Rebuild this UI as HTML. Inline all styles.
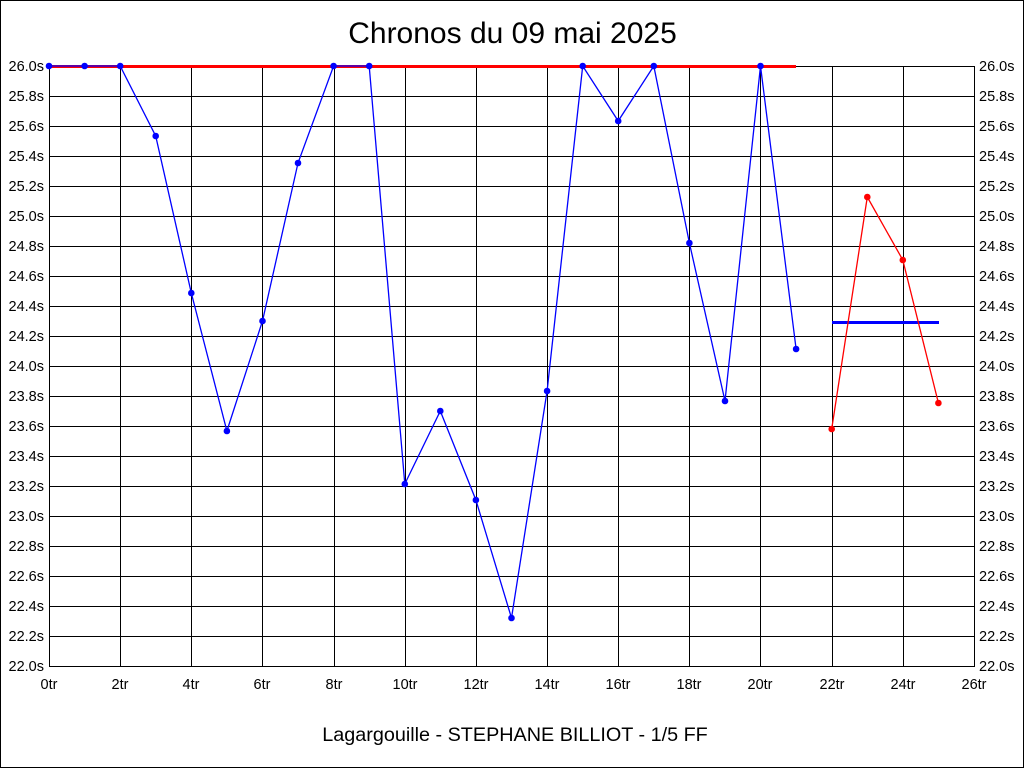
<!DOCTYPE html>
<html>
<head>
<meta charset="utf-8">
<style>
html,body{margin:0;padding:0;background:#fff;}
svg{display:block;}
text{font-family:"Liberation Sans",Arial,sans-serif;fill:#000;}
</style>
</head>
<body>
<svg width="1024" height="768" viewBox="0 0 1024 768" xmlns="http://www.w3.org/2000/svg">
<rect x="0" y="0" width="1024" height="768" fill="#fff"/>
<rect x="0.5" y="0.5" width="1023" height="767" fill="none" stroke="#000" stroke-width="1"/>

<text x="512.5" y="43" font-size="30" text-anchor="middle">Chronos du 09 mai 2025</text>

<g stroke="#000" stroke-width="1" shape-rendering="crispEdges">
<line x1="49" y1="66.5" x2="975" y2="66.5"/>
<line x1="49" y1="96.5" x2="975" y2="96.5"/>
<line x1="49" y1="126.5" x2="975" y2="126.5"/>
<line x1="49" y1="156.5" x2="975" y2="156.5"/>
<line x1="49" y1="186.5" x2="975" y2="186.5"/>
<line x1="49" y1="216.5" x2="975" y2="216.5"/>
<line x1="49" y1="246.5" x2="975" y2="246.5"/>
<line x1="49" y1="276.5" x2="975" y2="276.5"/>
<line x1="49" y1="306.5" x2="975" y2="306.5"/>
<line x1="49" y1="336.5" x2="975" y2="336.5"/>
<line x1="49" y1="366.5" x2="975" y2="366.5"/>
<line x1="49" y1="396.5" x2="975" y2="396.5"/>
<line x1="49" y1="426.5" x2="975" y2="426.5"/>
<line x1="49" y1="456.5" x2="975" y2="456.5"/>
<line x1="49" y1="486.5" x2="975" y2="486.5"/>
<line x1="49" y1="516.5" x2="975" y2="516.5"/>
<line x1="49" y1="546.5" x2="975" y2="546.5"/>
<line x1="49" y1="576.5" x2="975" y2="576.5"/>
<line x1="49" y1="606.5" x2="975" y2="606.5"/>
<line x1="49" y1="636.5" x2="975" y2="636.5"/>
<line x1="49" y1="666.5" x2="975" y2="666.5"/>

<line x1="49.5" y1="66" x2="49.5" y2="667"/>
<line x1="120.5" y1="66" x2="120.5" y2="667"/>
<line x1="191.5" y1="66" x2="191.5" y2="667"/>
<line x1="262.5" y1="66" x2="262.5" y2="667"/>
<line x1="334.5" y1="66" x2="334.5" y2="667"/>
<line x1="405.5" y1="66" x2="405.5" y2="667"/>
<line x1="476.5" y1="66" x2="476.5" y2="667"/>
<line x1="547.5" y1="66" x2="547.5" y2="667"/>
<line x1="618.5" y1="66" x2="618.5" y2="667"/>
<line x1="689.5" y1="66" x2="689.5" y2="667"/>
<line x1="760.5" y1="66" x2="760.5" y2="667"/>
<line x1="832.5" y1="66" x2="832.5" y2="667"/>
<line x1="903.5" y1="66" x2="903.5" y2="667"/>
<line x1="974.5" y1="66" x2="974.5" y2="667"/>
</g>

<g font-size="14.5" text-anchor="end">
<text x="44" y="71">26.0s</text>
<text x="44" y="101">25.8s</text>
<text x="44" y="131">25.6s</text>
<text x="44" y="161">25.4s</text>
<text x="44" y="191">25.2s</text>
<text x="44" y="221">25.0s</text>
<text x="44" y="251">24.8s</text>
<text x="44" y="281">24.6s</text>
<text x="44" y="311">24.4s</text>
<text x="44" y="341">24.2s</text>
<text x="44" y="371">24.0s</text>
<text x="44" y="401">23.8s</text>
<text x="44" y="431">23.6s</text>
<text x="44" y="461">23.4s</text>
<text x="44" y="491">23.2s</text>
<text x="44" y="521">23.0s</text>
<text x="44" y="551">22.8s</text>
<text x="44" y="581">22.6s</text>
<text x="44" y="611">22.4s</text>
<text x="44" y="641">22.2s</text>
<text x="44" y="671">22.0s</text>
</g>
<g font-size="14.5" text-anchor="start">
<text x="979" y="71">26.0s</text>
<text x="979" y="101">25.8s</text>
<text x="979" y="131">25.6s</text>
<text x="979" y="161">25.4s</text>
<text x="979" y="191">25.2s</text>
<text x="979" y="221">25.0s</text>
<text x="979" y="251">24.8s</text>
<text x="979" y="281">24.6s</text>
<text x="979" y="311">24.4s</text>
<text x="979" y="341">24.2s</text>
<text x="979" y="371">24.0s</text>
<text x="979" y="401">23.8s</text>
<text x="979" y="431">23.6s</text>
<text x="979" y="461">23.4s</text>
<text x="979" y="491">23.2s</text>
<text x="979" y="521">23.0s</text>
<text x="979" y="551">22.8s</text>
<text x="979" y="581">22.6s</text>
<text x="979" y="611">22.4s</text>
<text x="979" y="641">22.2s</text>
<text x="979" y="671">22.0s</text>
</g>
<g font-size="14.5" text-anchor="middle">
<text x="49" y="689">0tr</text>
<text x="120" y="689">2tr</text>
<text x="191" y="689">4tr</text>
<text x="262" y="689">6tr</text>
<text x="334" y="689">8tr</text>
<text x="405" y="689">10tr</text>
<text x="476" y="689">12tr</text>
<text x="547" y="689">14tr</text>
<text x="618" y="689">16tr</text>
<text x="689" y="689">18tr</text>
<text x="760" y="689">20tr</text>
<text x="832" y="689">22tr</text>
<text x="903" y="689">24tr</text>
<text x="974" y="689">26tr</text>
</g>

<!-- red reference line -->
<line x1="49" y1="66.5" x2="796" y2="66.5" stroke="#ff0000" stroke-width="3"/>
<!-- blue average line -->
<line x1="832" y1="322.5" x2="939" y2="322.5" stroke="#0000ff" stroke-width="3"/>

<!-- blue series -->
<polyline fill="none" stroke="#0000ff" stroke-width="1.3" points="49,66 84.6,66 120.2,66 155.7,136 191.3,293 226.9,431 262.5,321 298,163 333.6,66 369.2,66 404.8,484 440.3,411 475.9,500 511.5,618 547.1,391 582.7,66 618.2,121 653.8,66 689.4,243 725,401 760.5,66 796.1,349"/>
<g fill="#0000ff">
<circle cx="49" cy="66" r="3.3"/>
<circle cx="84.6" cy="66" r="3.3"/>
<circle cx="120.2" cy="66" r="3.3"/>
<circle cx="155.7" cy="136" r="3.3"/>
<circle cx="191.3" cy="293" r="3.3"/>
<circle cx="226.9" cy="431" r="3.3"/>
<circle cx="262.5" cy="321" r="3.3"/>
<circle cx="298" cy="163" r="3.3"/>
<circle cx="333.6" cy="66" r="3.3"/>
<circle cx="369.2" cy="66" r="3.3"/>
<circle cx="404.8" cy="484" r="3.3"/>
<circle cx="440.3" cy="411" r="3.3"/>
<circle cx="475.9" cy="500" r="3.3"/>
<circle cx="511.5" cy="618" r="3.3"/>
<circle cx="547.1" cy="391" r="3.3"/>
<circle cx="582.7" cy="66" r="3.3"/>
<circle cx="618.2" cy="121" r="3.3"/>
<circle cx="653.8" cy="66" r="3.3"/>
<circle cx="689.4" cy="243" r="3.3"/>
<circle cx="725" cy="401" r="3.3"/>
<circle cx="760.5" cy="66" r="3.3"/>
<circle cx="796.1" cy="349" r="3.3"/>
</g>

<!-- red series -->
<polyline fill="none" stroke="#ff0000" stroke-width="1.3" points="831.7,429 867.3,197 902.8,260 938.4,403"/>
<g fill="#ff0000">
<circle cx="831.7" cy="429" r="3.3"/>
<circle cx="867.3" cy="197" r="3.3"/>
<circle cx="902.8" cy="260" r="3.3"/>
<circle cx="938.4" cy="403" r="3.3"/>
</g>

<text x="515" y="741" font-size="19.8" text-anchor="middle">Lagargouille - STEPHANE BILLIOT - 1/5 FF</text>
</svg>
</body>
</html>
